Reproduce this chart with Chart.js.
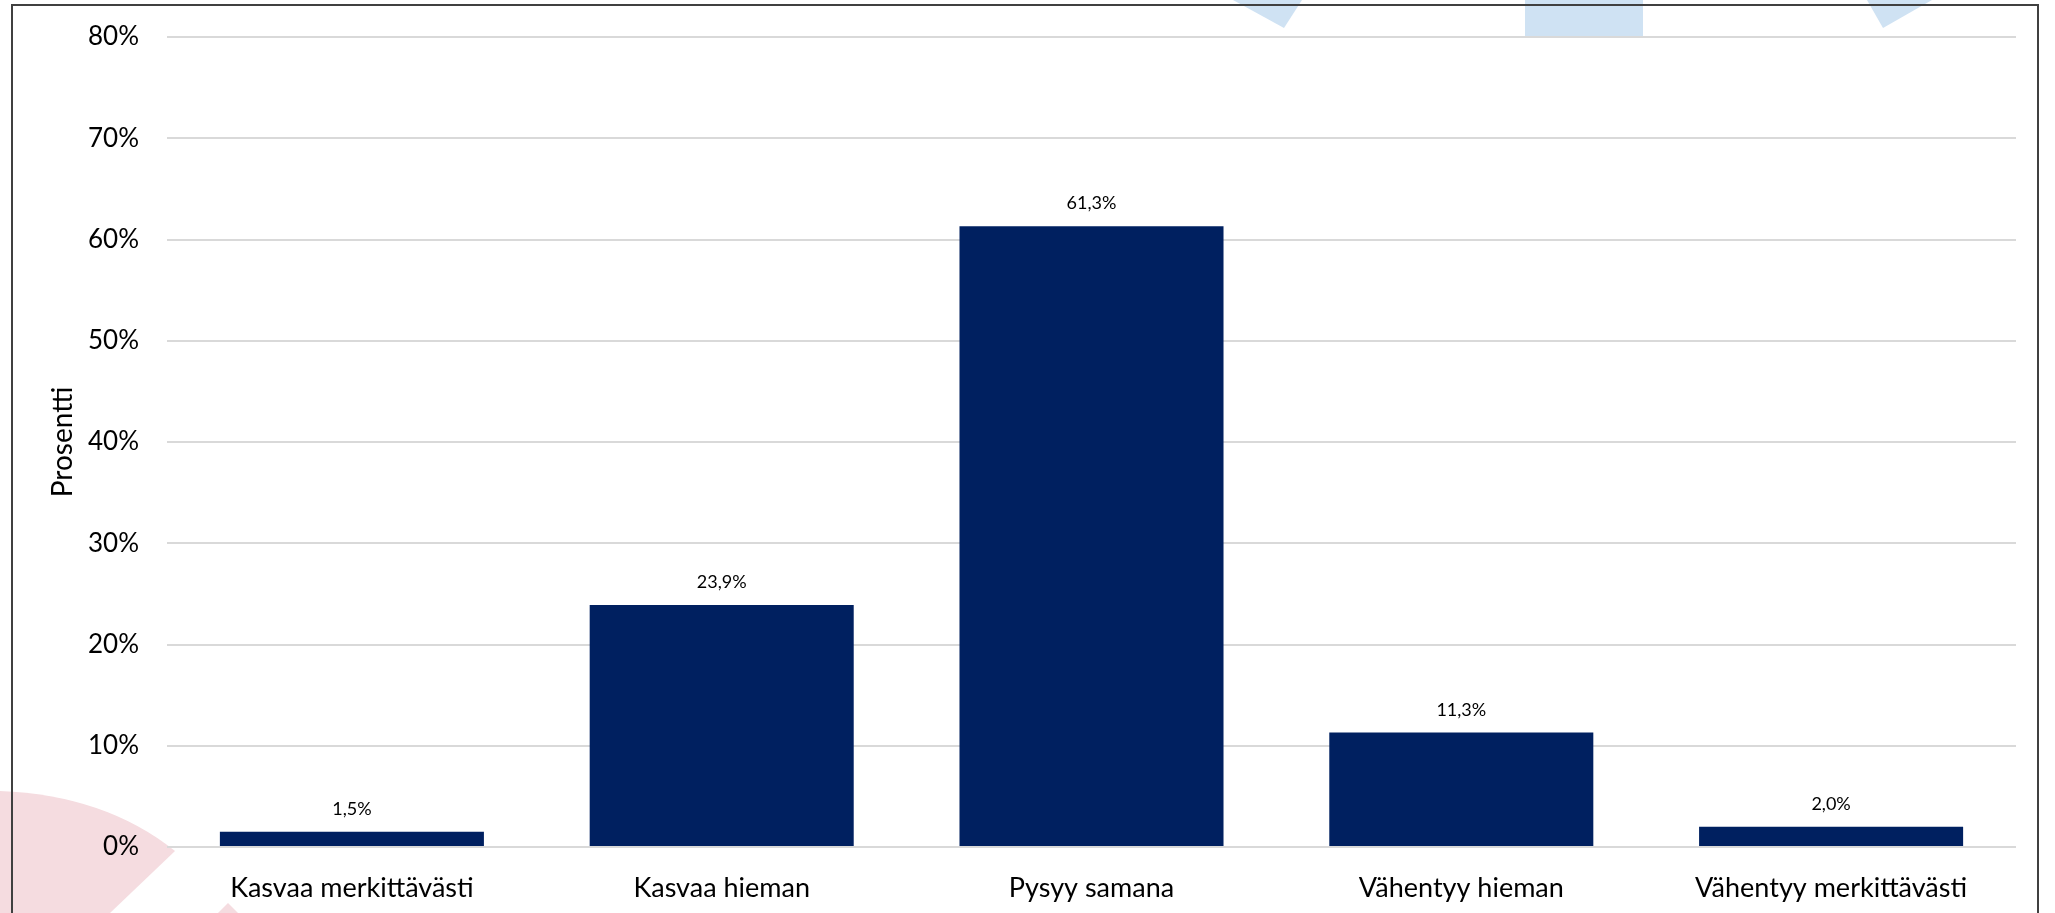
<!DOCTYPE html>
<html>
<head>
<meta charset="utf-8">
<title>Prosentti</title>
<script src="https://cdn.jsdelivr.net/npm/chart.js@4/dist/chart.umd.min.js"></script>
<style>
  html, body { margin: 0; padding: 0; background: #fff; }
  #chart { display: block; }
</style>
</head>
<body>
<canvas id="chart" width="2055" height="913"></canvas>
<script>
// Chart data
const categories = ['Kasvaa merkittävästi', 'Kasvaa hieman', 'Pysyy samana', 'Vähentyy hieman', 'Vähentyy merkittävästi'];
const values = [1.5, 23.9, 61.3, 11.3, 2.0];
const yTicks = [0, 10, 20, 30, 40, 50, 60, 70, 80];

const FONT = 'Lato, "Open Sans", sans-serif';

// Background shapes + frame (decoration behind the chart)
const backgroundPlugin = {
  id: 'background',
  beforeDraw(chart) {
    const ctx = chart.ctx;
    ctx.save();
    ctx.fillStyle = '#fff';
    ctx.fillRect(0, 0, chart.width, chart.height);

    // light blue shapes at the top
    ctx.fillStyle = '#cfe2f3';
    ctx.beginPath();
    ctx.moveTo(1233, 0); ctx.lineTo(1302, 0); ctx.lineTo(1284, 28); ctx.closePath();
    ctx.fill();
    ctx.fillRect(1525, 0, 118, 36);
    ctx.beginPath();
    ctx.moveTo(1867, 0); ctx.lineTo(1932, 0); ctx.lineTo(1883, 28); ctx.closePath();
    ctx.fill();

    // pink shapes bottom left
    ctx.fillStyle = '#f5dce0';
    ctx.beginPath();
    ctx.moveTo(0, 791);
    ctx.quadraticCurveTo(105, 795, 175, 851);
    ctx.lineTo(110, 913);
    ctx.lineTo(0, 913);
    ctx.closePath();
    ctx.fill();
    ctx.beginPath();
    ctx.moveTo(228, 903); ctx.lineTo(238, 913); ctx.lineTo(218, 913); ctx.closePath();
    ctx.fill();

    // chart frame (runs off the bottom)
    ctx.strokeStyle = '#404040';
    ctx.lineWidth = 2;
    ctx.strokeRect(12, 5, 2026, 1000);
    ctx.restore();
  }
};

// Value labels above the bars
const valueLabels = {
  id: 'valueLabels',
  afterDatasetsDraw(chart) {
    const ctx = chart.ctx;
    const meta = chart.getDatasetMeta(0);
    ctx.save();
    ctx.font = '18px ' + FONT;
    ctx.fillStyle = '#000';
    ctx.textAlign = 'center';
    ctx.textBaseline = 'alphabetic';
    meta.data.forEach((bar, i) => {
      const txt = values[i].toFixed(1).replace('.', ',') + '%';
      ctx.fillText(txt, bar.x, bar.y - 17);
    });
    ctx.restore();
  }
};

new Chart(document.getElementById('chart'), {
  type: 'bar',
  data: {
    labels: categories,
    datasets: [{
      data: values,
      backgroundColor: '#002060',
      borderWidth: 0,
      categoryPercentage: 1,
      barPercentage: 0.714
    }]
  },
  options: {
    responsive: false,
    animation: false,
    devicePixelRatio: 1,
    layout: { padding: { top: 37, right: 39, bottom: 0, left: 0 } },
    plugins: {
      legend: { display: false },
      tooltip: { enabled: false }
    },
    scales: {
      x: {
        grid: { display: false },
        border: { display: false },
        ticks: {
          color: '#000',
          font: { family: FONT, size: 27 },
          padding: 17,
          maxRotation: 0
        },
        afterFit(scale) { scale.height = 66; }
      },
      y: {
        min: 0,
        max: 80,
        afterBuildTicks(scale) { scale.ticks = yTicks.map(v => ({ value: v })); },
        // invisible tick marks give the gap between labels and plot
        grid: { color: '#d9d9d9', lineWidth: 2, drawTicks: true, tickLength: 28, tickColor: 'rgba(0,0,0,0)' },
        border: { display: false },
        ticks: {
          color: '#000',
          font: { family: FONT, size: 26 },
          padding: 0,
          callback: v => v + '%'
        },
        title: {
          display: true,
          text: 'Prosentti',
          color: '#000',
          font: { family: FONT, size: 28 },
          padding: { top: 46, bottom: 0 }
        },
        afterFit(scale) { scale.width = 167; }
      }
    }
  },
  plugins: [backgroundPlugin, valueLabels]
});
</script>
</body>
</html>
